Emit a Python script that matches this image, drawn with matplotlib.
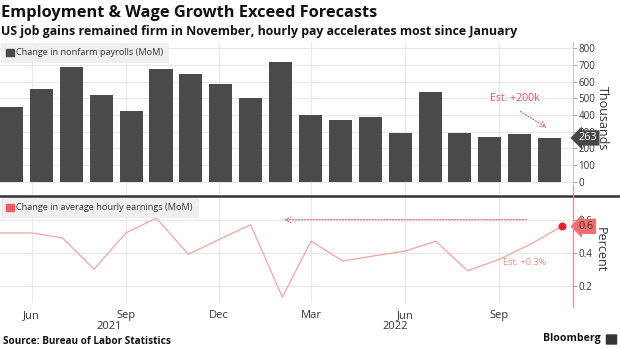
import matplotlib
matplotlib.use('Agg')
import matplotlib.pyplot as plt
import matplotlib.dates as mdates
from matplotlib.dates import DateFormatter
from matplotlib.lines import Line2D
from matplotlib.patches import Patch, FancyBboxPatch
import pandas as pd

plt.rcParams['font.family'] = ['Open Sans', 'DejaVu Sans']

#%% data
months = pd.date_range('2021-05-01', periods=19, freq='MS')
payrolls = [447, 557, 689, 517, 424, 677, 647, 588, 504, 714,
            398, 368, 386, 293, 537, 292, 269, 284, 263]
hourly = [0.52, 0.52, 0.49, 0.30, 0.52, 0.61, 0.39, 0.48, 0.57, 0.13,
          0.47, 0.35, 0.38, 0.41, 0.47, 0.29, 0.36, 0.45, 0.56]
pay_ticks = list(range(0, 900, 100))
pct_ticks = [0.2, 0.4, 0.6]

title = 'Employment & Wage Growth Exceed Forecasts'
subtitle = 'US job gains remained firm in November, hourly pay accelerates most since January'

bar_col = '#4a4a4a'
red = '#f05a5a'
pink = '#e2546e'
grid_col = '#e8e8e8'
txt = '#333333'

#%% figure, laid out in pixels
W, H = 620, 348
fig = plt.figure(figsize=(W / 100, H / 100), dpi=100)

def box(left, top, right, bottom):
    return [left / W, 1 - bottom / H, (right - left) / W, (bottom - top) / H]

ax1 = fig.add_axes(box(0, 42, 573, 195))
ax2 = fig.add_axes(box(0, 197, 573, 303))

# date axis (shared look for both panels)
x_lo, x_hi = months[0], pd.Timestamp('2022-11-12')
loc = mdates.MonthLocator(bymonth=[3, 6, 9, 12])

#%% top panel: payroll bars
grid1 = ax1.twiny()
grid1.set_xlim(x_lo, x_hi)
grid1.xaxis.set_major_locator(loc)
grid1.grid(axis='x', color=grid_col, lw=0.8)
grid1.tick_params(axis='x', length=0, labelbottom=False, labeltop=False)
for s in grid1.spines.values():
    s.set_visible(False)
ax1.set_zorder(grid1.get_zorder() + 1)
ax1.patch.set_visible(False)

ax1.bar(range(len(payrolls)), payrolls, width=0.77, color=bar_col, zorder=2)
ax1.set_xlim(-0.385, 18.78)
ax1.set_ylim(-78, 836)
ax1.set_yticks(pay_ticks)
ax1.yaxis.tick_right()
ax1.yaxis.set_label_position('right')
ax1.tick_params(axis='y', length=3, width=0.6, color='#999999', pad=1,
                labelsize=7.0, labelcolor=txt)
ax1.tick_params(axis='x', length=0, labelbottom=False)
ax1.grid(axis='y', color=grid_col, lw=0.8)
ax1.set_axisbelow(True)
for s in ['top', 'left', 'bottom']:
    ax1.spines[s].set_visible(False)
ax1.spines['right'].set_color('#bbbbbb')
ax1.spines['right'].set_linewidth(0.6)
ax1.set_ylabel('Thousands', rotation=270, fontsize=9.0, color=txt, labelpad=10)

leg1 = ax1.legend(handles=[Patch(color=bar_col, label='Change in nonfarm payrolls (MoM)')],
                  loc='upper left', bbox_to_anchor=(0, 1), borderaxespad=0.1,
                  fontsize=6.6, labelcolor=txt, handlelength=0.8, handleheight=0.8,
                  handletextpad=0.3, borderpad=0.6, fancybox=False,
                  facecolor='#efefef', edgecolor='none', framealpha=1)

# latest value tag and consensus note
ax1.annotate(str(payrolls[-1]), xy=(1.01, payrolls[-1]), xycoords=('axes fraction', 'data'),
             va='center', ha='left', fontsize=7.8, color='white', zorder=6,
             bbox=dict(boxstyle='larrow,pad=0.2', fc='#474747', ec='none'))
ax1.text(16.84, 501, 'Est. +200k', color=pink, fontsize=7.6, ha='center', va='center')
ax1.annotate('', xy=(17.98, 316), xytext=(16.94, 430),
             arrowprops=dict(arrowstyle='->', color=pink, lw=0.8, linestyle=':'))

#%% bottom panel: average hourly earnings
ax2.plot(months, hourly, color='#f4a3a0', lw=0.9, zorder=3)
ax2.scatter(months[-1:], hourly[-1:], s=22, color='#e8202a', zorder=4)
ax2.set_xlim(x_lo, x_hi)
ax2.set_ylim(0.095, 0.738)
ax2.xaxis.set_major_locator(loc)
ax2.xaxis.set_major_formatter(DateFormatter('%b'))
ax2.tick_params(axis='x', length=0, pad=5, labelsize=8.0, labelcolor=txt)
ax2.set_yticks(pct_ticks)
ax2.yaxis.tick_right()
ax2.yaxis.set_label_position('right')
ax2.tick_params(axis='y', length=3, width=0.6, color='#999999', pad=1,
                labelsize=7.0, labelcolor=txt)
ax2.grid(color=grid_col, lw=0.8)
ax2.set_axisbelow(True)
for s in ['top', 'left', 'bottom']:
    ax2.spines[s].set_visible(False)
ax2.spines['right'].set_color('#f08a8a')
ax2.spines['right'].set_linewidth(0.8)
ax2.set_ylabel('Percent', rotation=270, fontsize=9.0, color=txt, labelpad=10)

for yr, xpos in [('2021', '2021-08-16'), ('2022', '2022-05-22')]:
    ax2.text(pd.Timestamp(xpos), -0.22, yr, transform=ax2.get_xaxis_transform(),
             ha='center', va='center', fontsize=8.0, color=txt)

leg2 = ax2.legend(handles=[Patch(color=red, label='Change in average hourly earnings (MoM)')],
                  loc='upper left', bbox_to_anchor=(0, 1), borderaxespad=0.1,
                  fontsize=6.6, labelcolor=txt, handlelength=0.8, handleheight=0.8,
                  handletextpad=0.3, borderpad=0.6, fancybox=False,
                  facecolor='#efefef', edgecolor='none', framealpha=1)

ax2.annotate(f'{hourly[-1]:.1f}', xy=(1.01, hourly[-1]), xycoords=('axes fraction', 'data'),
             va='center', ha='left', fontsize=7.8, color=txt, zorder=6,
             bbox=dict(boxstyle='larrow,pad=0.2', fc='#f26d6d', ec='none'))
ax2.annotate('', xy=(pd.Timestamp('2022-01-31'), 0.6), xytext=(pd.Timestamp('2022-09-30'), 0.6),
             arrowprops=dict(arrowstyle='->', color=pink, lw=0.8, linestyle=':'))
ax2.text(pd.Timestamp('2022-09-26'), 0.34, 'Est. +0.3%', color='#f08a8a',
         fontsize=6.6, ha='center', va='center')

#%% separator, red rule, titles, footer
fig.add_artist(Line2D([0, 1], [1 - 195.5 / H, 1 - 195.5 / H], color='#333333', lw=1.8))
fig.add_artist(Line2D([573 / W, 573 / W], [1 - 186 / H, 1 - 307 / H], color='#f08a8a', lw=0.8))

fig.text(1 / W, 1 - 13 / H, title, fontsize=11.8, fontweight='bold', color='#111111', va='center')
fig.text(1 / W, 1 - 32 / H, subtitle, fontsize=8.9, fontweight='bold', color='#111111', va='center')
fig.text(3 / W, 1 - 341 / H, 'Source: Bureau of Labor Statistics', fontsize=7.2,
         fontweight='bold', color='#111111', va='center')
fig.text(601 / W, 1 - 339 / H, 'Bloomberg', fontsize=7.6, fontweight='bold',
         color='#111111', va='center', ha='right')
fig.add_artist(FancyBboxPatch((607 / W, 1 - 344 / H), 9 / W, 9 / H,
                              boxstyle='round,pad=0.002', fc='#333333', ec='none',
                              transform=fig.transFigure))

fig.savefig('out.png', dpi=100)
